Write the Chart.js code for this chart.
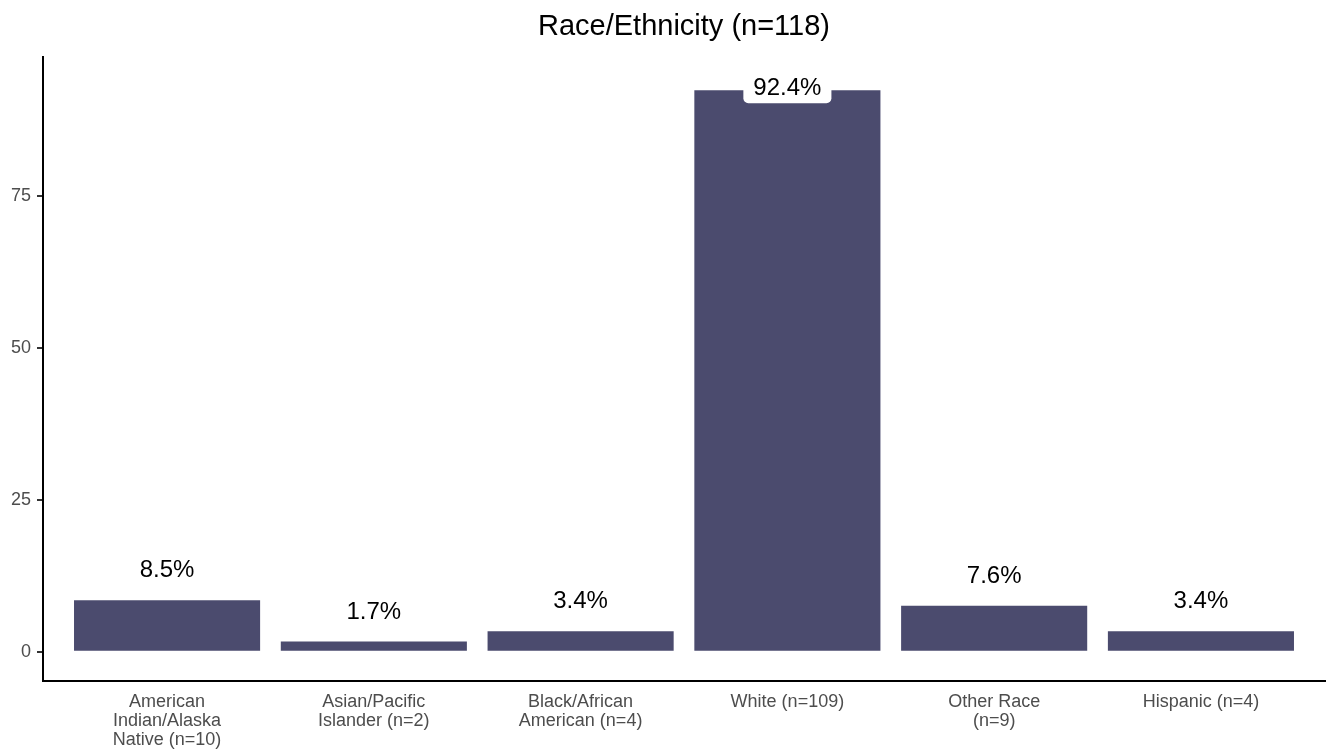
<!DOCTYPE html>
<html>
<head>
<meta charset="utf-8">
<script src="https://cdn.jsdelivr.net/npm/chart.js@4"></script>
<style>
  html, body { margin: 0; padding: 0; background: #fff; }
  #wrap { width: 1326px; height: 754px; }
</style>
</head>
<body>
<div id="wrap"><canvas id="grafico"></canvas></div>
<script>
// dados
const categorias = [
  ['American', 'Indian/Alaska', 'Native (n=10)'],
  ['Asian/Pacific', 'Islander (n=2)'],
  ['Black/African', 'American (n=4)'],
  'White (n=109)',
  ['Other Race', '(n=9)'],
  'Hispanic (n=4)'
];
const percentuais = [8.5, 1.7, 3.4, 92.4, 7.6, 3.4];
const rotulos = ['8.5%', '1.7%', '3.4%', '92.4%', '7.6%', '3.4%'];
const ticksY = [0, 25, 50, 75];

const FONTE = "'Liberation Sans', Arial, sans-serif";
const Y_MIN = -4.8;
const Y_MAX = 97.9;

// rótulos acima das barras (com caixa branca, como geom_label)
const rotulosPlugin = {
  id: 'rotulos',
  afterDatasetsDraw(chart) {
    const ctx = chart.ctx;
    const meta = chart.getDatasetMeta(0);
    const y = chart.scales.y;
    ctx.save();
    ctx.font = '24px ' + FONTE;
    ctx.textAlign = 'center';
    ctx.textBaseline = 'middle';
    meta.data.forEach((bar, i) => {
      const v = percentuais[i];
      const py = y.getPixelForValue(Math.min(v + 5, Y_MAX - 5));
      const txt = rotulos[i];
      const w = ctx.measureText(txt).width + 20;
      const h = 32;
      ctx.fillStyle = '#ffffff';
      ctx.beginPath();
      ctx.roundRect(bar.x - w / 2, py - h / 2, w, h, 5);
      ctx.fill();
      ctx.fillStyle = '#000000';
      ctx.fillText(txt, bar.x, py + 1);
    });
    ctx.restore();
  }
};

const ctx = document.getElementById('grafico').getContext('2d');
new Chart(ctx, {
  type: 'bar',
  data: {
    datasets: [{
      data: percentuais.map((v, i) => ({ x: i, y: v })),
      backgroundColor: '#4B4B6E',
      borderWidth: 0,
      barPercentage: 0.9,
      categoryPercentage: 1.0
    }]
  },
  options: {
    responsive: true,
    maintainAspectRatio: false,
    animation: false,
    layout: { padding: { left: 0, right: 1, top: 0, bottom: 0 } },
    plugins: {
      legend: { display: false },
      tooltip: { enabled: false },
      title: {
        display: true,
        fullSize: false,
        text: 'Race/Ethnicity (n=118)',
        color: '#000000',
        font: { family: FONTE, size: 29, weight: 'normal' },
        padding: { top: 10, bottom: 12 }
      }
    },
    scales: {
      x: {
        type: 'linear',
        offset: false,
        min: -0.6,
        max: 5.6,
        afterBuildTicks: (axis) => {
          axis.ticks = categorias.map((_, i) => ({ value: i }));
        },
        afterFit: (axis) => { axis.height = 73; },
        grid: { display: false },
        border: { display: true, color: '#000000', width: 2 },
        ticks: {
          autoSkip: false,
          maxRotation: 0,
          padding: 3,
          color: '#4D4D4D',
          font: { family: FONTE, size: 18, lineHeight: 1.06 },
          callback: (value) => categorias[value]
        }
      },
      y: {
        min: Y_MIN,
        max: Y_MAX,
        afterBuildTicks: (axis) => {
          axis.ticks = ticksY.map(v => ({ value: v }));
        },
        afterFit: (axis) => { axis.width = 43; },
        grid: {
          drawOnChartArea: false,
          drawTicks: true,
          tickLength: 6,
          color: '#333333',
          lineWidth: 2
        },
        border: { display: true, color: '#000000', width: 2 },
        ticks: {
          padding: 6,
          color: '#4D4D4D',
          font: { family: FONTE, size: 18 }
        }
      }
    }
  },
  plugins: [rotulosPlugin]
});
</script>
</body>
</html>
